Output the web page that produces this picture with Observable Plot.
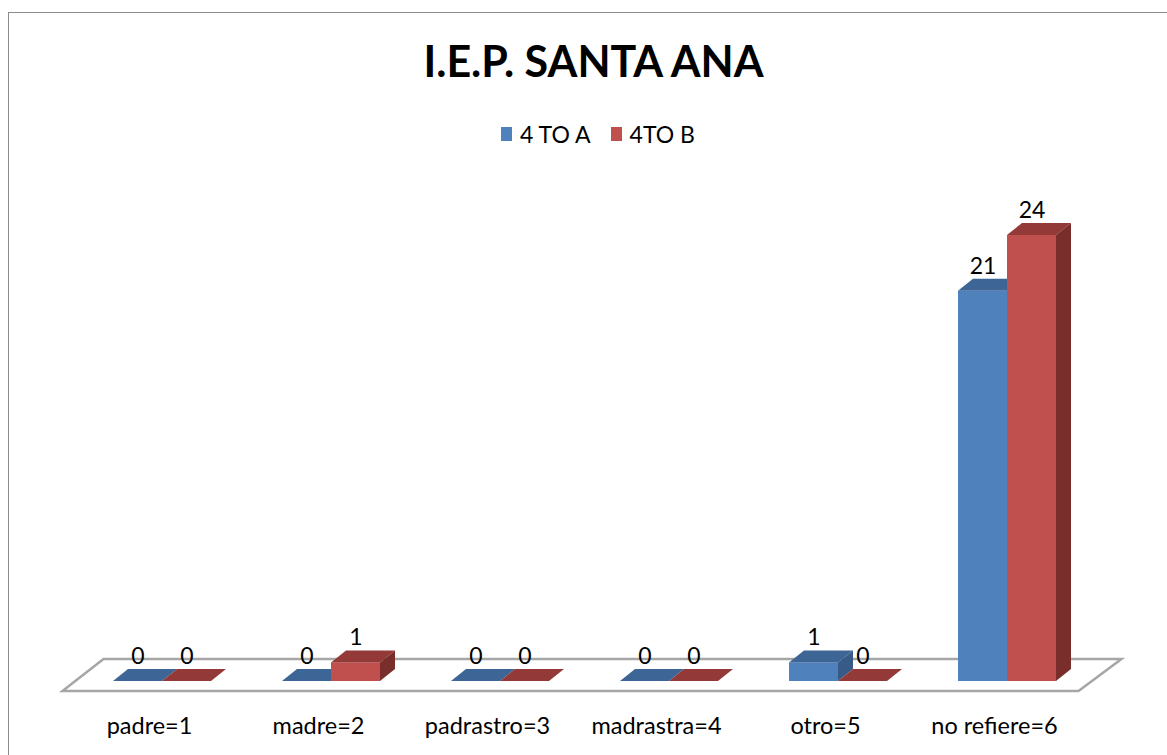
<!DOCTYPE html>
<html>
<head>
<meta charset="utf-8">
<script src="https://cdn.jsdelivr.net/npm/d3@7"></script>
<script src="https://cdn.jsdelivr.net/npm/@observablehq/plot@0.6"></script>
<style>
  html, body { margin: 0; padding: 0; background: #fff; overflow: hidden; width: 1167px; height: 755px; }
  body { font-family: Lato, "Open Sans", sans-serif; color: #000; position: relative; }
  #frame { position: absolute; left: 8px; top: 12px; width: 1180px; height: 780px; border: 1.5px solid #8c8c8c; box-sizing: border-box; }
  #title { position: absolute; left: 0; width: 1187px; top: 39px; text-align: center; font-weight: bold; font-size: 43px; line-height: 1; }
  #legend { position: absolute; left: 0; width: 1196px; top: 123px; display: flex; justify-content: center; align-items: center; font-size: 23px; line-height: 22px; }
  #legend .item { display: flex; align-items: center; margin: 0 10px; }
  #legend .sw { width: 11px; height: 14px; margin-right: 8px; }
  #chart { position: absolute; left: 0; top: 160px; }
</style>
</head>
<body>
<div id="frame"></div>
<div id="title"></div>
<div id="legend"></div>
<div id="chart"></div>
<script>
const title = "I.E.P. SANTA ANA";
const categories = ["padre=1", "madre=2", "padrastro=3", "madrastra=4", "otro=5", "no refiere=6"];
const series = ["4 TO A", "4TO B"];
const valuesA = [0, 0, 0, 0, 1, 21];
const valuesB = [0, 1, 0, 0, 0, 24];
const frontColors = ["#4F81BD", "#C0504D"];
const topColors = ["#3D6596", "#933937"];
const sideColors = ["#375A86", "#7A2E2C"];

document.getElementById("title").textContent = title;
const legend = document.getElementById("legend");
series.forEach((s, i) => {
  const item = document.createElement("div");
  item.className = "item";
  const sw = document.createElement("div");
  sw.className = "sw";
  sw.style.background = frontColors[i];
  const t = document.createElement("span");
  t.textContent = s;
  item.appendChild(sw); item.appendChild(t);
  legend.appendChild(item);
});

const rowsA = categories.map((c, i) => ({cat: c, series: series[0], value: valuesA[i]}));
const rowsB = categories.map((c, i) => ({cat: c, series: series[1], value: valuesB[i]}));

const DX = 15, DY = -12;   // bar depth (pixels)

function box3d(topFill, sideFill) {
  return function(index, scales, values, dimensions, context, next) {
    const g = next(index, scales, values, dimensions, context);
    const rects = Array.from(g.querySelectorAll("rect"));
    const parent = rects.length ? rects[0].parentNode : g;
    for (const r of rects) {
      const x = +r.getAttribute("x"), y = +r.getAttribute("y");
      const w = +r.getAttribute("width"), h = +r.getAttribute("height");
      const top = document.createElementNS("http://www.w3.org/2000/svg", "path");
      top.setAttribute("d", `M${x},${y}L${x + w},${y}L${x + w + DX},${y + DY}L${x + DX},${y + DY}Z`);
      top.setAttribute("fill", topFill);
      parent.appendChild(top);
      if (h > 0) {
        const side = document.createElementNS("http://www.w3.org/2000/svg", "path");
        side.setAttribute("d", `M${x + w},${y}L${x + w},${y + h}L${x + w + DX},${y + h + DY}L${x + w + DX},${y + DY}Z`);
        side.setAttribute("fill", sideFill);
        parent.appendChild(side);
      }
    }
    return g;
  };
}

function floor(index, scales, values, dimensions) {
  const [x0, x1] = scales.x.range ? scales.x.range() : [dimensions.marginLeft, dimensions.width - dimensions.marginRight];
  const yb = scales.y(0);
  const fx0 = x0 - 15, fx1 = x1 - 13, fy = yb + 10;
  const d = `M${fx0},${fy}L${fx1},${fy}L${fx1 + 43},${fy - 32}L${fx0 + 41},${fy - 32}Z`;
  const p = document.createElementNS("http://www.w3.org/2000/svg", "path");
  p.setAttribute("d", d);
  p.setAttribute("fill", "none");
  p.setAttribute("stroke", "#a6a6a6");
  p.setAttribute("stroke-width", "2.5");
  p.setAttribute("stroke-linejoin", "miter");
  return p;
}

const BW = 49;         // front face width
const STEP = 169;      // category step
const outer = (STEP - 2 * BW) / 2;

const chart = Plot.plot({
  width: 1167,
  height: 595,
  marginLeft: 77.5,
  marginRight: 75.5,
  marginTop: 75,
  marginBottom: 74,
  style: {fontFamily: "Lato, 'Open Sans', sans-serif", background: "transparent", overflow: "visible"},
  x: {domain: categories, padding: 0, round: false, axis: null},
  y: {domain: [0, 24], axis: null},
  marks: [
    floor,
    Plot.barY(rowsA, {x: "cat", y: "value", fill: frontColors[0], insetLeft: outer, insetRight: outer + BW, render: box3d(topColors[0], sideColors[0])}),
    Plot.barY(rowsB, {x: "cat", y: "value", fill: frontColors[1], insetLeft: outer + BW, insetRight: outer, render: box3d(topColors[1], sideColors[1])}),
    Plot.text(rowsA, {x: "cat", y: "value", text: d => String(d.value), dx: -BW / 2, dy: -25, fontSize: 23, fill: "#000"}),
    Plot.text(rowsB, {x: "cat", y: "value", text: d => String(d.value), dx: BW / 2, dy: -25, fontSize: 23, fill: "#000"}),
    Plot.text(categories, {x: d => d, frameAnchor: "bottom", dx: -13, dy: 45, fontSize: 23.5, fill: "#000", lineAnchor: "middle"})
  ]
});
document.getElementById("chart").appendChild(chart);
</script>
</body>
</html>
